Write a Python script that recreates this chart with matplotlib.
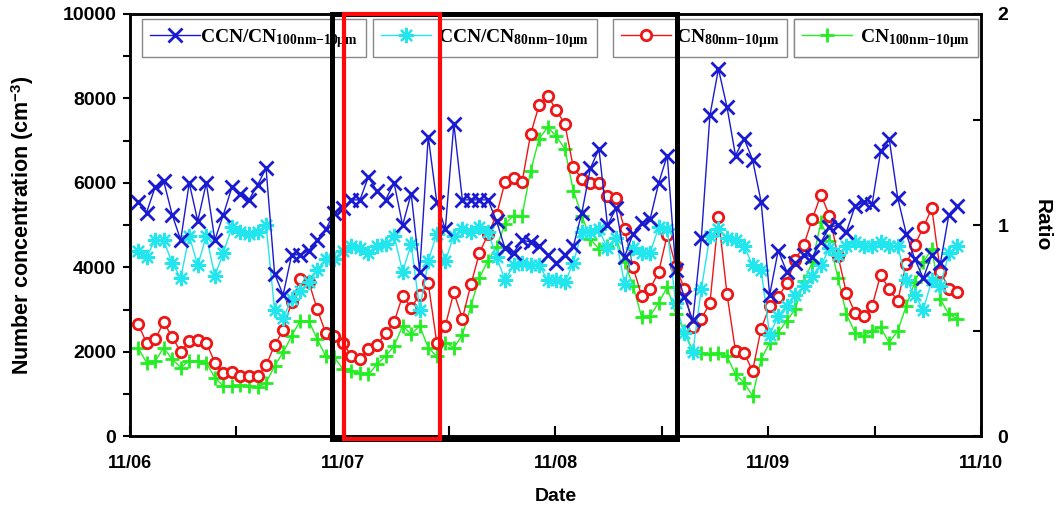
import numpy as np
import matplotlib
matplotlib.use("Agg")
import matplotlib.pyplot as plt
from matplotlib.patches import Rectangle
import matplotlib.transforms as mtransforms

# Sampling of the series (hours after 11/06 00:00, roughly hourly)
start_hour = 0.9
step_hour = 0.963
n_points = 97

# CCN/CN ratio for 100nm-10um (right axis)
ratio_100 = [1.11, 1.06, 1.18, 1.21, 1.05, 0.93, 1.20, 1.02, 1.20, 0.93, 1.05, 1.18, 1.15, 1.12, 1.19, 1.27,
             0.77, 0.67, 0.86, 0.86, 0.88, 0.93, 0.98, 1.06, 1.08, 1.12, 1.12, 1.23, 1.16, 1.12, 1.20, 1.00,
             1.15, 0.78, 1.42, 1.11, 0.98, 1.48, 1.12, 1.12, 1.12, 1.12, 1.02, 0.89, 0.87, 0.93, 0.92, 0.90,
             0.86, 0.82, 0.86, 0.90, 1.06, 1.27, 1.36, 1.00, 1.08, 0.85, 0.96, 1.01, 1.03, 1.20, 1.33, 0.79,
             0.66, 0.55, 0.94, 1.52, 1.74, 1.56, 1.33, 1.41, 1.31, 1.11, 0.67, 0.88, 0.78, 0.82, 0.86, 0.85,
             0.92, 0.99, 1.00, 0.97, 1.09, 1.11, 1.10, 1.35, 1.41, 1.13, 0.96, 0.84, 0.75, 0.86, 0.82, 1.05, 1.09]

# CCN/CN ratio for 80nm-10um (right axis)
ratio_80 = [0.88, 0.85, 0.93, 0.93, 0.82, 0.75, 0.95, 0.81, 0.95, 0.76, 0.87, 0.99, 0.97, 0.96, 0.97, 1.00,
            0.60, 0.56, 0.65, 0.69, 0.73, 0.79, 0.84, 0.84, 0.88, 0.90, 0.89, 0.87, 0.90, 0.91, 0.95, 0.78,
            0.91, 0.60, 0.83, 0.96, 0.83, 0.95, 0.98, 0.97, 0.99, 0.97, 0.85, 0.74, 0.81, 0.82, 0.81, 0.81,
            0.74, 0.74, 0.73, 0.82, 0.97, 0.97, 0.98, 0.89, 0.94, 0.72, 0.89, 0.87, 0.87, 0.99, 0.98, 0.63,
            0.49, 0.40, 0.70, 0.95, 0.98, 0.94, 0.93, 0.90, 0.81, 0.79, 0.48, 0.57, 0.62, 0.67, 0.71, 0.76,
            0.81, 0.89, 0.86, 0.90, 0.92, 0.90, 0.90, 0.92, 0.90, 0.90, 0.74, 0.67, 0.60, 0.74, 0.71, 0.87, 0.90]

# CN 80nm-10um number concentration (cm-3, left axis)
cn_80 = [2660, 2220, 2300, 2700, 2360, 2000, 2260, 2290, 2220, 1750, 1510, 1530, 1420, 1430, 1430, 1680,
         2160, 2520, 3190, 3720, 3660, 3010, 2440, 2380, 2220, 1900, 1840, 2080, 2160, 2440, 2710, 3330,
         3050, 3350, 3630, 2220, 2620, 3410, 2790, 3600, 4340, 4790, 5240, 6030, 6110, 6030, 7160, 7850,
         8070, 7720, 7400, 6370, 6100, 6000, 6000, 5700, 5640, 4910, 4000, 3330, 3500, 3900, 4770, 4040,
         3490, 2580, 2790, 3150, 5190, 3370, 2020, 1980, 1550, 2550, 3080, 3290, 3630, 4180, 4530, 5150,
         5720, 5230, 4280, 3390, 2930, 2840, 3090, 3820, 3490, 3210, 4080, 4530, 4950, 5400, 3900, 3500, 3410]

# CN 100nm-10um number concentration (cm-3, left axis)
cn_100 = [2100, 1750, 1780, 2100, 1830, 1630, 1790, 1790, 1750, 1390, 1190, 1190, 1210, 1190, 1160, 1270,
          1670, 1990, 2380, 2740, 2740, 2300, 1900, 1870, 1600, 1550, 1510, 1470, 1710, 1900, 2140, 2620,
          2420, 2620, 2100, 1900, 2220, 2100, 2400, 3090, 3760, 4160, 4480, 5030, 5230, 5230, 6290, 7050,
          7320, 7110, 6810, 5820, 5230, 4670, 4440, 4500, 4700, 4120, 3570, 2820, 2850, 3170, 3530, 2900,
          2500, 2020, 1980, 1950, 1970, 1900, 1470, 1270, 960, 1830, 2220, 2460, 2740, 3010, 3680, 4120,
          5070, 4630, 3760, 2890, 2460, 2380, 2500, 2580, 2220, 2500, 3090, 3650, 4120, 4440, 3250, 2890, 2780]

# Date tick labels (one per day)
date_labels = ['11/06', '11/07', '11/08', '11/09', '11/10']

# Highlighted periods in days after 11/06 00:00 (start, end)
black_period = (0.948, 2.570)
red_period = (1.008, 1.457)


def main():
    # Time axis in days
    days = (start_hour + step_hour * np.arange(n_points)) / 24.0

    # Fonts: Arial-like for axes, Times-like for the legend
    plt.rcParams['font.family'] = ['Liberation Sans', 'DejaVu Sans']
    plt.rcParams['mathtext.fontset'] = 'custom'
    plt.rcParams['mathtext.rm'] = 'Liberation Serif:bold'
    plt.rcParams['mathtext.bf'] = 'Liberation Serif:bold'
    plt.rcParams['mathtext.it'] = 'Liberation Serif:bold'
    plt.rcParams['mathtext.sf'] = 'Liberation Sans:bold'

    fig = plt.figure(figsize=(10.59, 5.12), dpi=100)
    ax = fig.add_axes([0.1228, 0.1475, 0.8035, 0.8252])
    ax2 = ax.twinx()

    blue = '#1a1ad0'
    cyan = '#22e6ee'
    red = '#f01515'
    green = '#22ee22'

    # Number concentrations on the left axis
    l_green, = ax.plot(days, cn_100, color=green, lw=1.0, marker='+', ms=10, mew=2.0)
    l_red, = ax.plot(days, cn_80, color=red, lw=1.0, marker='o', ms=7.5, mew=2.0, mfc='white')

    # Ratios on the right axis
    l_cyan, = ax2.plot(days, ratio_80, color=cyan, lw=1.0, marker=(8, 2, 0), ms=11, mew=1.6)
    l_blue, = ax2.plot(days, ratio_100, color=blue, lw=1.0, marker='x', ms=10, mew=2.0)

    # Axis limits and ticks
    ax.set_xlim(0, 4)
    ax.set_ylim(0, 10000)
    ax2.set_ylim(0, 2)
    ax.set_xticks(np.arange(0, 5))
    ax.set_xticklabels(date_labels)
    ax.set_xticks(np.arange(0, 4.01, 0.5), minor=True)
    ax.set_yticks(np.arange(0, 10001, 2000))
    ax.set_yticks(np.arange(0, 10001, 1000), minor=True)
    ax2.set_yticks([0, 1, 2])
    ax2.set_yticks(np.arange(0, 2.01, 0.5), minor=True)

    ax.tick_params(axis='x', which='both', direction='in', length=7, width=1.5, pad=13,
                   labelsize=13)
    ax.tick_params(axis='y', which='both', direction='out', length=5, width=1.5, pad=5,
                   labelsize=14)
    ax2.tick_params(axis='y', which='both', direction='in', length=6, width=1.5, pad=12,
                    labelsize=14)
    for lab in ax.get_xticklabels() + ax.get_yticklabels() + ax2.get_yticklabels():
        lab.set_fontweight('bold')

    for a in (ax, ax2):
        for sp in a.spines.values():
            sp.set_linewidth(1.8)

    # Axis labels
    ax.set_ylabel(r'Number concentration (cm$^{\mathsf{-3}}$)', fontsize=15.5, fontweight='bold')
    ax.yaxis.set_label_coords(-0.110, 0.5)
    ax.set_xlabel('Date', fontsize=14, fontweight='bold')
    ax.xaxis.set_label_coords(0.5, -0.123)
    ax2.set_ylabel('Ratio', fontsize=15, fontweight='bold', rotation=270, va='center')
    ax2.yaxis.set_label_coords(1.072, 0.5)

    # Highlight rectangles (data x, axes y)
    trans = mtransforms.blended_transform_factory(ax.transData, ax.transAxes)
    ax2.add_patch(Rectangle((black_period[0], -0.006), black_period[1] - black_period[0], 1.006,
                            transform=trans, fill=False, edgecolor='black', lw=3.6, clip_on=False,
                            zorder=5))
    ax2.add_patch(Rectangle((red_period[0], -0.006), red_period[1] - red_period[0], 1.006,
                            transform=trans, fill=False, edgecolor='#ff0a0a', lw=3.0, clip_on=False,
                            zorder=6))

    # Four separate legend boxes along the top
    sub = r'$_{\mathbf{%s}}$'
    entries = [
        (l_blue, 'CCN/CN' + sub % '100nm{-}10μm', 142, 0.0),
        (l_cyan, 'CCN/CN' + sub % '80nm{-}10μm', 373, 0.35),
        (l_red, 'CN' + sub % '80nm{-}10μm', 613, 0.25),
        (l_green, 'CN' + sub % '100nm{-}10μm', 794, 0.4),
    ]
    for handle, label, x_px, textpad in entries:
        leg = ax2.legend([handle], [label], loc='upper left',
                         bbox_to_anchor=(x_px / 1059, 1 - 19 / 512),
                         bbox_transform=fig.transFigure, borderaxespad=0,
                         prop={'family': 'Liberation Serif', 'weight': 'bold', 'size': 14},
                         handlelength=2.6, handletextpad=textpad, borderpad=0.4,
                         fancybox=False, framealpha=1, edgecolor='#888888')
        leg.get_frame().set_linewidth(1.0)
        leg.set_zorder(4)
        ax2.add_artist(leg)

    fig.savefig('out.png', dpi=100)


main()
